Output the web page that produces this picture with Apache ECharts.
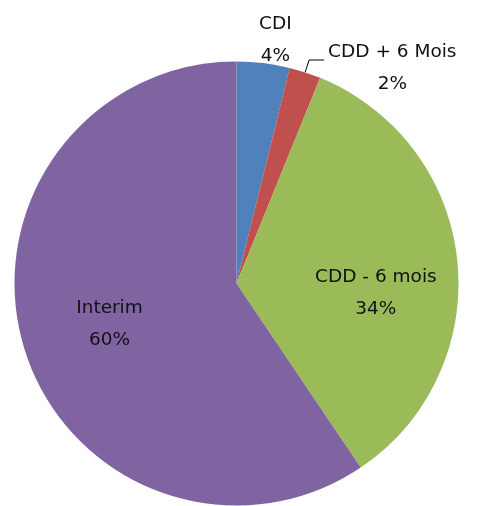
<!DOCTYPE html>
<html><head><meta charset="utf-8">
<script src="https://cdn.jsdelivr.net/npm/echarts@6/dist/echarts.min.js"></script>
<style>html,body{margin:0;padding:0;background:#fff}#c{width:479px;height:506px}</style>
</head><body><div id="c"></div>
<script>
const categories = ['CDI', 'CDD + 6 Mois', 'CDD - 6 mois', 'Interim'];
const values = [3.85, 2.3, 34.4, 59.45];
const colors = ['#4F81BD', '#C0504D', '#9BBB59', '#8064A2'];

const chart = echarts.init(document.getElementById('c'), null, {renderer: 'canvas'});
const labelShift = [[-11, 0], null, [26, 21], [-18, 7]];
const labelPos = ['outside', 'outside', 'inside', 'inside'];
const lineCfg = [
  {show: false, length: 23, length2: 0},
  {show: true, length: 13, length2: 15, lineStyle: {color: '#000', width: 1}},
  {show: false}, {show: false}
];
const padTop = [0, 16, 0, 0];

const data = categories.map((name, i) => ({
  name: name,
  value: values[i],
  itemStyle: {color: colors[i]},
  label: {position: labelPos[i], padding: [padTop[i], 0, 0, 0]},
  labelLine: lineCfg[i]
}));

chart.setOption({
  animation: false,
  backgroundColor: '#fff',
  series: [{
    type: 'pie',
    left: 0, top: 0, right: -80, bottom: 0,
    center: [236.5, 283.5],
    radius: 222,
    startAngle: 90,
    clockwise: true,
    avoidLabelOverlap: false,
    percentPrecision: 0,
    silent: true,
    itemStyle: {borderWidth: 0},
    label: {
      show: true,
      overflow: 'none',
      bleedMargin: 0,
      distanceToLabelLine: 4,
      formatter: p => '{t|' + p.name + '}\n{t|' + p.percent + '%}',
      rich: {
        t: {fontFamily: 'DejaVu Sans', fontSize: 18.5, lineHeight: 32, color: '#111', align: 'center'}
      }
    },
    labelLayout: function (p) {
      const s = labelShift[p.dataIndex];
      return s ? {dx: s[0], dy: s[1]} : null;
    },
    data: data
  }]
});
</script></body></html>
